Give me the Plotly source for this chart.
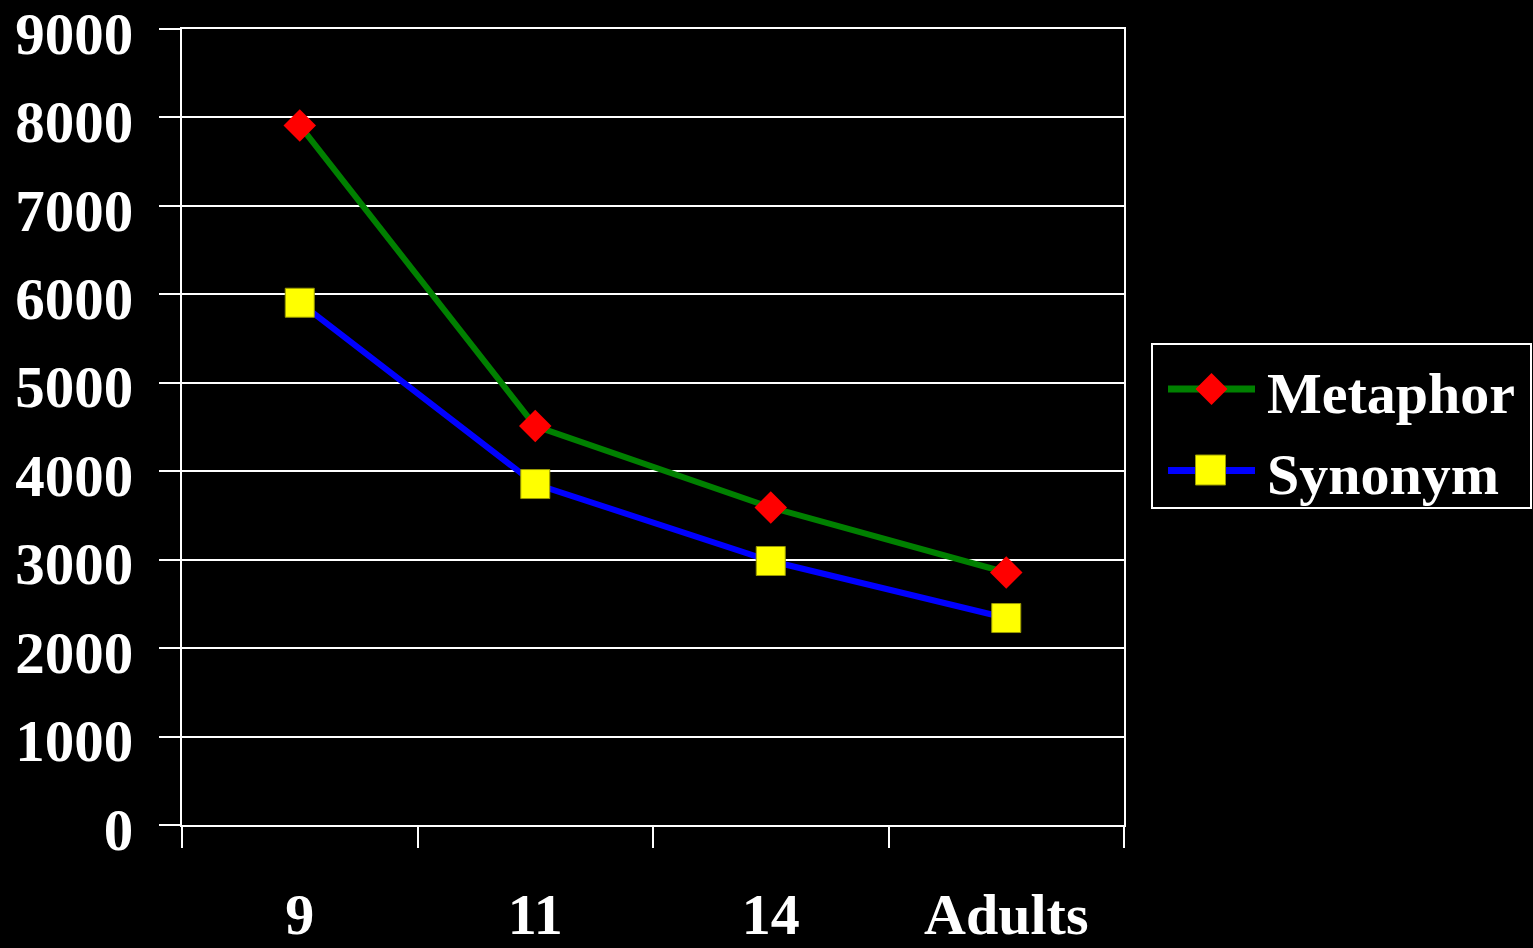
import plotly.graph_objects as go

categories = ["9", "11", "14", "Adults"]
metaphor = [7910, 4510, 3590, 2855]
synonym = [5905, 3855, 2985, 2340]
y_ticks = [0, 1000, 2000, 3000, 4000, 5000, 6000, 7000, 8000, 9000]
series_names = ["Metaphor", "Synonym"]

FONT = "Liberation Serif, Times New Roman, serif"
W, H = 1533, 948
ML, MR, MT, MB = 182, 409, 29, 123
PW, PH = W - ML - MR, H - MT - MB

GREEN, BLUE, RED, YELLOW = "#008000", "#0000FF", "#FF0000", "#FFFF00"


def px_x(px):
    return (px - ML) / PW


def px_y(py):
    return (H - MB - py) / PH


fig = go.Figure()
fig.add_trace(go.Scatter(
    x=categories, y=metaphor, name=series_names[0], mode="lines+markers",
    line=dict(color=GREEN, width=6),
    marker=dict(symbol="diamond", size=25, color=RED, line=dict(width=0)),
    showlegend=False,
))
fig.add_trace(go.Scatter(
    x=categories, y=synonym, name=series_names[1], mode="lines+markers",
    line=dict(color=BLUE, width=6),
    marker=dict(symbol="square", size=29, color=YELLOW, line=dict(width=1, color="#999900")),
    showlegend=False,
))

# Custom legend (box, sample lines, markers, labels)
shapes = [
    dict(type="rect", xref="paper", yref="paper",
         x0=px_x(1152), x1=px_x(1531), y0=px_y(508), y1=px_y(344),
         line=dict(color="white", width=2), fillcolor="black", layer="above"),
    dict(type="line", xref="paper", yref="paper",
         x0=px_x(1168), x1=px_x(1255), y0=px_y(389), y1=px_y(389),
         line=dict(color=GREEN, width=7), layer="above"),
    dict(type="line", xref="paper", yref="paper",
         x0=px_x(1168), x1=px_x(1255), y0=px_y(470.5), y1=px_y(470.5),
         line=dict(color=BLUE, width=7), layer="above"),
    dict(type="path", xref="paper", yref="paper",
         xsizemode="pixel", ysizemode="pixel",
         xanchor=px_x(1211.5), yanchor=px_y(389),
         path="M -16 0 L 0 16 L 16 0 L 0 -16 Z",
         fillcolor=RED, line=dict(width=0), layer="above"),
    dict(type="rect", xref="paper", yref="paper",
         xsizemode="pixel", ysizemode="pixel",
         xanchor=px_x(1210.5), yanchor=px_y(470),
         x0=-15, x1=15, y0=-15, y1=15,
         fillcolor=YELLOW, line=dict(width=1, color="#999900"), layer="above"),
]
annotations = [
    dict(text=series_names[0], xref="paper", yref="paper",
         x=px_x(1265), y=px_y(393), xanchor="left", yanchor="middle",
         showarrow=False, font=dict(family=FONT, size=58, color="white", weight="bold")),
    dict(text=series_names[1], xref="paper", yref="paper",
         x=px_x(1265), y=px_y(474), xanchor="left", yanchor="middle",
         showarrow=False, font=dict(family=FONT, size=58, color="white", weight="bold")),
]

fig.update_layout(
    width=W, height=H,
    paper_bgcolor="black", plot_bgcolor="black",
    margin=dict(l=ML, r=MR, t=MT, b=MB, autoexpand=False),
    font=dict(family=FONT, color="white", size=58, weight="bold"),
    showlegend=False,
    shapes=shapes,
    annotations=annotations,
)
fig.update_xaxes(
    type="category", range=[-0.5, 3.5],
    showline=True, linecolor="white", linewidth=2, mirror=True,
    ticks="outside", tickson="boundaries", ticklen=21, tickwidth=2, tickcolor="white",
    showgrid=False, zeroline=False, automargin=False,
    tickfont=dict(family=FONT, size=58, color="white", weight="bold"),
    ticklabelstandoff=37, ticklabeloverflow="allow",
)
fig.update_yaxes(
    range=[0, 9000], tickvals=y_ticks, ticktext=[str(v) for v in y_ticks],
    showline=True, linecolor="white", linewidth=2, mirror=True,
    ticks="outside", ticklen=21, tickwidth=2, tickcolor="white",
    showgrid=True, gridcolor="white", gridwidth=2, zeroline=False, automargin=False,
    tickfont=dict(family=FONT, size=59, color="white", weight="bold"),
    ticklabelstandoff=14, ticklabelshift=4, ticklabeloverflow="allow",
)

fig.write_html(
    "out.html",
    config={"displayModeBar": False},
    post_script="document.body.style.margin='0';document.body.style.background='black';",
)
